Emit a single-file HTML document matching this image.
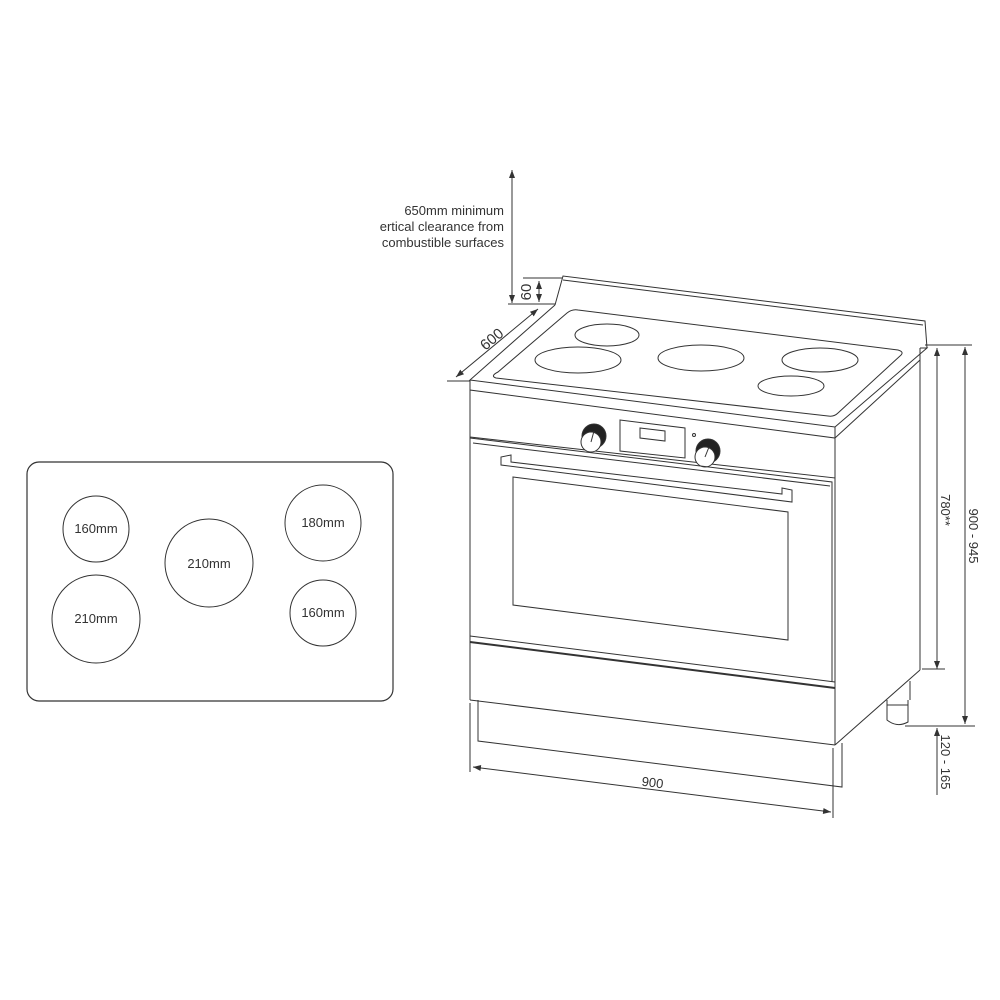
<!DOCTYPE html>
<html><head><meta charset="utf-8"><style>
html,body{margin:0;padding:0;background:#fff;}
svg{display:block;}
text{font-family:"Liberation Sans",sans-serif;fill:#333;}
</style></head><body>
<svg width="1000" height="1000" viewBox="0 0 1000 1000" xmlns="http://www.w3.org/2000/svg">
<defs>
<marker id="ar" markerWidth="8" markerHeight="6" refX="8" refY="3" orient="auto-start-reverse" markerUnits="userSpaceOnUse"><path d="M0,0 L8,3 L0,6 z" fill="#333"/></marker>
</defs>
<g fill="none" stroke="#333" stroke-width="1">
<!-- left hob plan -->
<rect x="27" y="462" width="366" height="239" rx="12" stroke-width="1.2"/>
<circle cx="96" cy="529" r="33"/>
<circle cx="209" cy="563" r="44"/>
<circle cx="323" cy="523" r="38"/>
<circle cx="96" cy="619" r="44"/>
<circle cx="323" cy="613" r="33"/>

<!-- backsplash -->
<path d="M555,305 L563,276 L925,321 L927,348"/>
<path d="M563,280 L923,325"/>
<!-- top surface -->
<path d="M555,305 L470,380 L835,427 L927,348 L920,348"/>
<path d="M470,380 L470,390 L835,438 L835,427"/>
<path d="M835,438 L920,360"/>
<!-- hob glass -->
<path d="M498,372 L567,313 Q572,309 578,310 L898,350 Q905,352 900,356 L838,413 Q834,417 828,416 L496,378 Q490,376 498,372 Z"/>
<!-- burners -->
<ellipse cx="607" cy="335" rx="32" ry="11"/>
<ellipse cx="578" cy="360" rx="43" ry="13"/>
<ellipse cx="701" cy="358" rx="43" ry="13"/>
<ellipse cx="820" cy="360" rx="38" ry="12"/>
<ellipse cx="791" cy="386" rx="33" ry="10"/>
<!-- control panel -->
<path d="M470,390 L470,437 L835,478 L835,438"/>
<path d="M620,420 L685,428 L685,458 L620,451 Z"/>
<path d="M640,428 L665,431 L665,441 L640,438 Z"/>
<circle cx="694" cy="435" r="1.5"/>
<circle cx="594" cy="436" r="12" fill="#222"/>
<circle cx="591" cy="442" r="10" fill="#fff"/>
<line x1="591" y1="442" x2="594" y2="431"/>
<circle cx="708" cy="451" r="12" fill="#222"/>
<circle cx="705" cy="457" r="10" fill="#fff"/>
<line x1="705" y1="457" x2="709" y2="447"/>
<!-- body -->
<line x1="470" y1="380" x2="470" y2="700"/>
<line x1="835" y1="427" x2="835" y2="745"/>
<line x1="920" y1="348" x2="920" y2="670"/>
<line x1="920" y1="670" x2="835" y2="745"/>
<!-- oven door -->
<path d="M470,438 L832,482 L832,682"/>
<path d="M473,443 L830,486"/>
<line x1="470" y1="636" x2="835" y2="682"/>
<!-- handle -->
<path d="M501,457 L501,465 L792,502 L792,490 L782,488 L782,494 L511,462 L511,455 Z"/>
<!-- window -->
<path d="M513,477 L788,512 L788,640 L513,605 Z"/>
<!-- drawer -->
<path d="M470,642 L835,688" stroke-width="2"/>
<path d="M470,700 L835,745"/>
<!-- plinth -->
<path d="M478,700 L478,741 L842,787 L842,743"/>
<!-- foot -->
<path d="M887,700 L887,720 Q897,728 908,722 L908,700"/>
<line x1="887" y1="705" x2="908" y2="705"/>
<line x1="910" y1="681" x2="910" y2="700"/>

<!-- dimensions -->
<line x1="512" y1="170" x2="512" y2="303" marker-start="url(#ar)" marker-end="url(#ar)"/>
<line x1="508" y1="304" x2="555" y2="304"/>
<line x1="523" y1="278" x2="562" y2="278"/>
<line x1="539" y1="281" x2="539" y2="302" marker-start="url(#ar)" marker-end="url(#ar)"/>
<line x1="456" y1="377" x2="538" y2="309" marker-start="url(#ar)" marker-end="url(#ar)"/>
<line x1="447" y1="381" x2="470" y2="381"/>
<line x1="925" y1="345" x2="972" y2="345"/>
<line x1="937" y1="348" x2="937" y2="669" marker-start="url(#ar)" marker-end="url(#ar)"/>
<line x1="965" y1="347" x2="965" y2="724" marker-start="url(#ar)" marker-end="url(#ar)"/>
<line x1="922" y1="669" x2="945" y2="669"/>
<line x1="905" y1="726" x2="975" y2="726"/>
<line x1="937" y1="728" x2="937" y2="795" marker-start="url(#ar)"/>
<line x1="470" y1="703" x2="470" y2="772"/>
<line x1="833" y1="748" x2="833" y2="818"/>
<line x1="473" y1="767" x2="831" y2="812" marker-start="url(#ar)" marker-end="url(#ar)"/>
</g>
<g font-size="13">
<text x="504" y="215" text-anchor="end">650mm minimum</text>
<text x="504" y="231" text-anchor="end">ertical clearance from</text>
<text x="504" y="247" text-anchor="end">combustible surfaces</text>
<text transform="translate(495,343) rotate(-40)" font-size="15" text-anchor="middle">600</text>
<text transform="translate(531,292) rotate(-90)" font-size="15" text-anchor="middle">60</text>
<text transform="translate(941,510) rotate(90)" font-size="13" text-anchor="middle">780**</text>
<text transform="translate(969,536) rotate(90)" font-size="13" text-anchor="middle">900 - 945</text>
<text transform="translate(941,762) rotate(90)" font-size="13" text-anchor="middle">120 - 165</text>
<text transform="translate(652,787) rotate(7)" font-size="13" text-anchor="middle">900</text>
<text x="96" y="533" text-anchor="middle">160mm</text>
<text x="209" y="568" text-anchor="middle">210mm</text>
<text x="323" y="527" text-anchor="middle">180mm</text>
<text x="96" y="623" text-anchor="middle">210mm</text>
<text x="323" y="617" text-anchor="middle">160mm</text>
</g>
</svg>
</body></html>
